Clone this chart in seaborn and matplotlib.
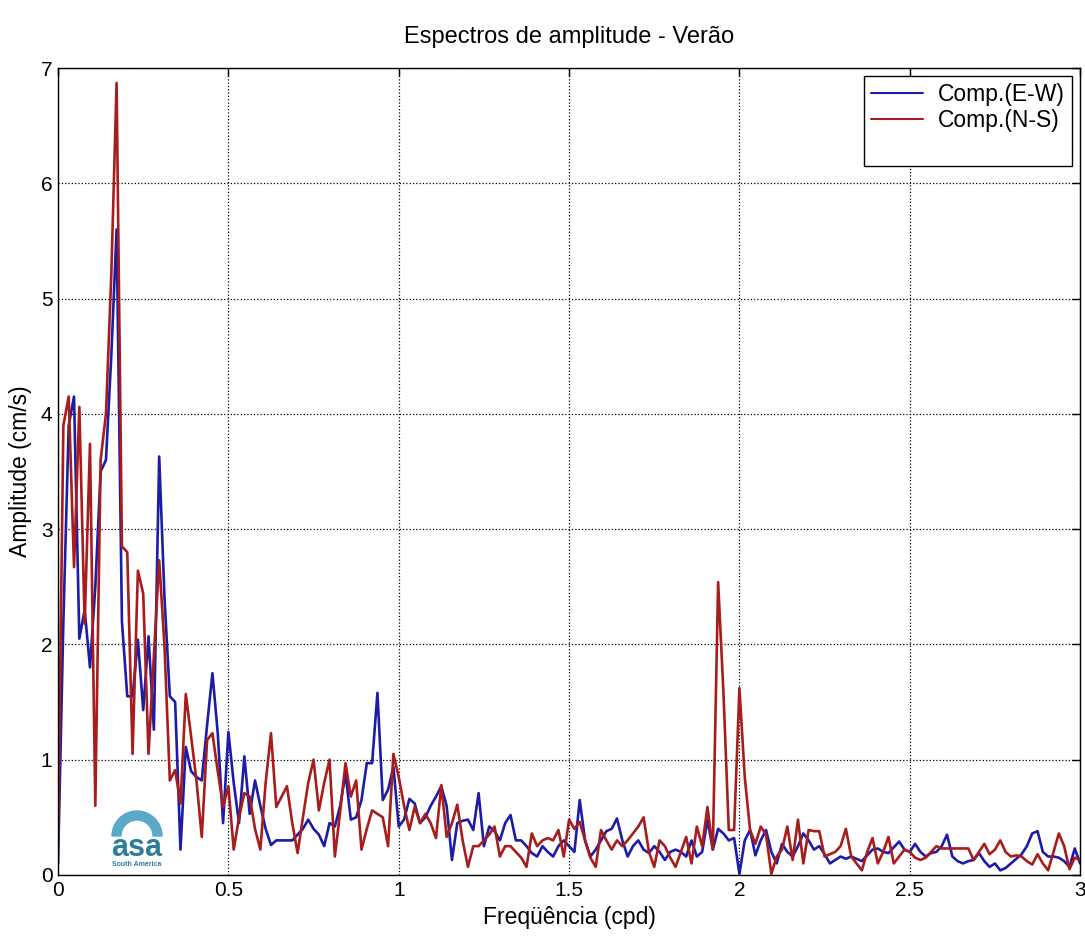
import numpy as np
import pandas as pd
import matplotlib
matplotlib.use("Agg")
import matplotlib.pyplot as plt
import matplotlib.patches as mpatches
import matplotlib.transforms as mtransforms
import seaborn as sns
from matplotlib.ticker import FuncFormatter
from matplotlib.lines import Line2D

# frequency grid (cpd), resolution 1/64 cpd from 0 to 3
freq = np.arange(0, 193) / 64.0

ew = [  # Comp.(E-W)
    0.10, 2.20, 3.90, 4.15, 2.05, 2.30, 1.80, 2.50,
    3.50, 3.60, 4.50, 5.60, 2.20, 1.55, 1.55, 2.04,
    1.43, 2.07, 1.26, 3.63, 2.40, 1.55, 1.50, 0.22,
    1.11, 0.90, 0.85, 0.82, 1.30, 1.75, 1.23, 0.45,
    1.24, 0.80, 0.45, 1.03, 0.53, 0.82, 0.60, 0.40,
    0.26, 0.30, 0.30, 0.30, 0.30, 0.35, 0.40, 0.48,
    0.40, 0.35, 0.25, 0.45, 0.42, 0.60, 0.88, 0.48,
    0.50, 0.65, 0.97, 0.97, 1.58, 0.65, 0.74, 0.94,
    0.42, 0.48, 0.66, 0.62, 0.45, 0.50, 0.60, 0.68,
    0.77, 0.60, 0.13, 0.45, 0.47, 0.48, 0.39, 0.71,
    0.25, 0.42, 0.38, 0.30, 0.45, 0.52, 0.30, 0.30,
    0.25, 0.19, 0.16, 0.25, 0.20, 0.16, 0.25, 0.30,
    0.25, 0.20, 0.65, 0.30, 0.16, 0.22, 0.30, 0.38,
    0.40, 0.49, 0.30, 0.16, 0.25, 0.30, 0.22, 0.19,
    0.25, 0.20, 0.13, 0.20, 0.22, 0.20, 0.16, 0.30,
    0.16, 0.20, 0.48, 0.22, 0.40, 0.36, 0.30, 0.32,
    0.01, 0.30, 0.39, 0.17, 0.30, 0.39, 0.20, 0.10,
    0.27, 0.20, 0.16, 0.25, 0.36, 0.30, 0.22, 0.25,
    0.18, 0.10, 0.13, 0.16, 0.14, 0.16, 0.14, 0.12,
    0.17, 0.22, 0.23, 0.20, 0.19, 0.24, 0.29, 0.22,
    0.20, 0.27, 0.20, 0.16, 0.19, 0.20, 0.25, 0.35,
    0.16, 0.12, 0.10, 0.12, 0.13, 0.19, 0.12, 0.07,
    0.10, 0.04, 0.06, 0.10, 0.14, 0.18, 0.25, 0.36,
    0.38, 0.20, 0.16, 0.16, 0.15, 0.12, 0.07, 0.23,
    0.10,
]

ns = [  # Comp.(N-S)
    0.30, 3.90, 4.15, 2.67, 4.06, 2.18, 3.74, 0.60,
    3.60, 4.00, 5.20, 6.87, 2.85, 2.80, 1.05, 2.64,
    2.44, 1.05, 1.90, 2.73, 1.98, 0.82, 0.91, 0.62,
    1.57, 1.20, 0.82, 0.33, 1.17, 1.23, 0.90, 0.59,
    0.77, 0.22, 0.50, 0.71, 0.68, 0.40, 0.22, 0.80,
    1.23, 0.59, 0.68, 0.77, 0.45, 0.19, 0.50, 0.80,
    1.00, 0.56, 0.80, 1.00, 0.16, 0.55, 0.97, 0.68,
    0.82, 0.22, 0.40, 0.56, 0.53, 0.50, 0.25, 1.05,
    0.85, 0.60, 0.39, 0.59, 0.45, 0.53, 0.45, 0.32,
    0.78, 0.33, 0.45, 0.61, 0.30, 0.07, 0.25, 0.25,
    0.30, 0.35, 0.42, 0.16, 0.25, 0.25, 0.20, 0.15,
    0.07, 0.36, 0.25, 0.30, 0.32, 0.30, 0.39, 0.16,
    0.48, 0.40, 0.46, 0.30, 0.15, 0.07, 0.39, 0.30,
    0.22, 0.30, 0.25, 0.30, 0.36, 0.42, 0.50, 0.20,
    0.07, 0.30, 0.25, 0.15, 0.07, 0.20, 0.33, 0.10,
    0.42, 0.25, 0.59, 0.22, 2.54, 1.58, 0.39, 0.39,
    1.62, 0.85, 0.39, 0.27, 0.42, 0.35, 0.01, 0.16,
    0.22, 0.42, 0.13, 0.48, 0.10, 0.39, 0.38, 0.38,
    0.16, 0.18, 0.20, 0.25, 0.40, 0.16, 0.10, 0.04,
    0.20, 0.32, 0.10, 0.20, 0.33, 0.10, 0.16, 0.22,
    0.20, 0.15, 0.13, 0.15, 0.20, 0.25, 0.23, 0.23,
    0.23, 0.23, 0.23, 0.23, 0.13, 0.20, 0.27, 0.18,
    0.22, 0.30, 0.20, 0.16, 0.17, 0.16, 0.12, 0.09,
    0.18, 0.10, 0.04, 0.20, 0.36, 0.25, 0.05, 0.15,
    0.13,
]

labels = ["Comp.(E-W)", "Comp.(N-S)"]
colors = ["#1c1ca8", "#a81c1c"]
title = "Espectros de amplitude - Verão"
xlabel = "Freqüência (cpd)"
ylabel = "Amplitude (cm/s)"
xticks = [0, 0.5, 1, 1.5, 2, 2.5, 3]
yticks = [0, 1, 2, 3, 4, 5, 6, 7]

n = len(freq)
assert len(ew) == n and len(ns) == n

df = pd.DataFrame({
    "freq": np.concatenate([freq, freq]),
    "amp": np.concatenate([ew, ns]),
    "comp": [labels[0]] * n + [labels[1]] * n,
})

sns.set_style("white")
plt.rcParams["font.family"] = ["Liberation Sans", "DejaVu Sans"]
plt.rcParams["text.color"] = "black"
plt.rcParams["axes.labelcolor"] = "black"

fig = plt.figure(figsize=(10.85, 9.38), dpi=100)
ax = fig.add_axes([0.0535, 0.0672, 0.942, 0.8603])

sns.lineplot(data=df, x="freq", y="amp", hue="comp", palette=colors,
             linewidth=1.9, ax=ax, legend=False, estimator=None, sort=False)

ax.set_xlim(0, 3)
ax.set_ylim(0, 7)
ax.set_xticks(xticks)
ax.set_yticks(yticks)
fmt = FuncFormatter(lambda v, p: ("%g" % v))
ax.xaxis.set_major_formatter(fmt)
ax.yaxis.set_major_formatter(fmt)
ax.tick_params(direction="in", top=True, right=True, length=6, width=1,
               labelsize=15, colors="black", pad=4)
ax.grid(True, linestyle=":", color="black", linewidth=0.9)
for s in ax.spines.values():
    s.set_visible(True)
    s.set_color("black")
    s.set_linewidth(1.0)

ax.set_title(title, fontsize=17, pad=18, color="black")
ax.set_xlabel(xlabel, fontsize=16.5, labelpad=5)
ax.set_ylabel(ylabel, fontsize=16.5, labelpad=6)

handles = [Line2D([], [], color=colors[0], lw=1.5),
           Line2D([], [], color=colors[1], lw=1.5),
           Line2D([], [], color="none")]
leg = ax.legend(handles, labels + [" "], loc="upper right", fontsize=16.5,
                frameon=True, fancybox=False, edgecolor="black",
                framealpha=1, borderaxespad=0.35, handlelength=2.3,
                handletextpad=0.65, labelspacing=0.15, borderpad=0.3)
leg.get_frame().set_linewidth(1.0)

# logo
logo_col = "#2b7e98"
arc = mpatches.Wedge((137, 102), 25, 0, 180, width=9, color="#5aa9c9",
                     transform=mtransforms.IdentityTransform(), zorder=5)
fig.add_artist(arc)
ax.text(0.077, 0.024, "asa", transform=ax.transAxes, ha="center",
        va="baseline", fontsize=22, fontweight="bold", color=logo_col)
ax.text(0.077, 0.011, "South America", transform=ax.transAxes, ha="center",
        va="baseline", fontsize=5, fontweight="bold", color=logo_col)

fig.savefig("out.png", dpi=100, facecolor="white")
